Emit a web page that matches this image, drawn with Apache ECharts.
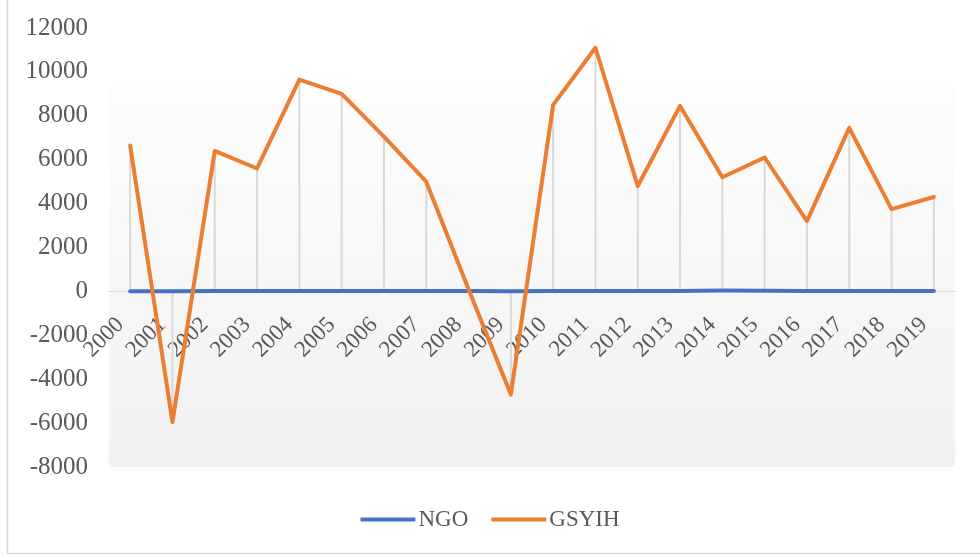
<!DOCTYPE html>
<html>
<head>
<meta charset="utf-8">
<script src="https://cdn.jsdelivr.net/npm/echarts@6/dist/echarts.min.js"></script>
<style>
  html, body { margin: 0; padding: 0; background: #fff; }
  #chart { width: 980px; height: 558px; }
</style>
</head>
<body>
<div id="chart"></div>
<script>
const years = ['2000', '2001', '2002', '2003', '2004', '2005', '2006', '2007', '2008', '2009',
  '2010', '2011', '2012', '2013', '2014', '2015', '2016', '2017', '2018', '2019']
const ngo = [10, 12, 15, 14, 16, 18, 17, 15, 14, 12, 15, 18, 16, 20, 40, 35, 20, 18, 15, 14]
const gsyih = [6650, -5950, 6400, 5600, 9650, 9000, 7050, 5000, 100, -4700,
  8500, 11100, 4800, 8450, 5200, 6100, 3200, 7450, 3750, 4300]

const serif = 'Liberation Serif'
const textColor = '#595959'

const gridTop = 28
const gridHeight = 439
const yMin = -8000
const yMax = 12000
// distance from the bottom of the grid up to the zero line
const zeroOffset = gridHeight * (0 - yMin) / (yMax - yMin)

const chart = echarts.init(document.getElementById('chart'))
chart.setOption({
  animation: false,
  grid: {
    left: 109,
    right: 25,
    top: gridTop,
    height: gridHeight,
    show: true,
    borderWidth: 0,
    // plot area fill, white at top fading to light grey
    backgroundColor: new echarts.graphic.LinearGradient(0, 0, 0, 1, [
      { offset: 0, color: '#ffffff' },
      { offset: 0.13, color: '#ffffff' },
      { offset: 0.135, color: '#fdfdfd' },
      { offset: 1, color: '#f1f1f1' }
    ])
  },
  legend: {
    data: ['NGO', 'GSYIH'],
    bottom: 22,
    left: 'center',
    itemWidth: 55,
    itemHeight: 4,
    itemGap: 23,
    icon: 'roundRect',
    textStyle: { fontFamily: serif, fontSize: 23, color: textColor, padding: [0, 0, 0, -2] }
  },
  graphic: [
    { type: 'line', shape: { x1: 7.5, y1: 0, x2: 7.5, y2: 553 }, style: { stroke: '#d9d9d9', lineWidth: 1.5 } },
    { type: 'line', shape: { x1: 7, y1: 553.5, x2: 980, y2: 553.5 }, style: { stroke: '#d9d9d9', lineWidth: 1.5 } }
  ],
  xAxis: {
    type: 'category',
    data: years,
    boundaryGap: true,
    position: 'bottom',
    offset: -zeroOffset,
    axisLine: { onZero: false, lineStyle: { color: '#d9d9d9', width: 1 } },
    axisTick: { show: false },
    axisLabel: {
      rotate: 45,
      margin: 20,
      padding: [0, 14, 0, 0],
      interval: 0,
      fontFamily: serif,
      fontSize: 23,
      color: textColor
    },
    splitLine: { show: false }
  },
  yAxis: {
    type: 'value',
    min: yMin,
    max: yMax,
    interval: 2000,
    axisLine: { show: false },
    axisTick: { show: false },
    splitLine: { show: false },
    axisLabel: {
      margin: 21,
      fontFamily: serif,
      fontSize: 25,
      color: textColor,
      formatter: v => String(v)
    }
  },
  series: [
    {
      // drop lines from the GSYIH points down to the category axis
      name: 'drop',
      type: 'bar',
      data: gsyih,
      barWidth: 2,
      silent: true,
      z: 1,
      itemStyle: { color: '#d9d9d9' }
    },
    {
      name: 'NGO',
      type: 'line',
      data: ngo,
      symbol: 'none',
      z: 3,
      itemStyle: { color: '#4472c4' },
      lineStyle: { color: '#4472c4', width: 4, cap: 'round', join: 'round' }
    },
    {
      name: 'GSYIH',
      type: 'line',
      data: gsyih,
      symbol: 'none',
      z: 4,
      itemStyle: { color: '#ed7d31' },
      lineStyle: { color: '#ed7d31', width: 4, cap: 'round', join: 'round' }
    }
  ]
})
</script>
</body>
</html>
